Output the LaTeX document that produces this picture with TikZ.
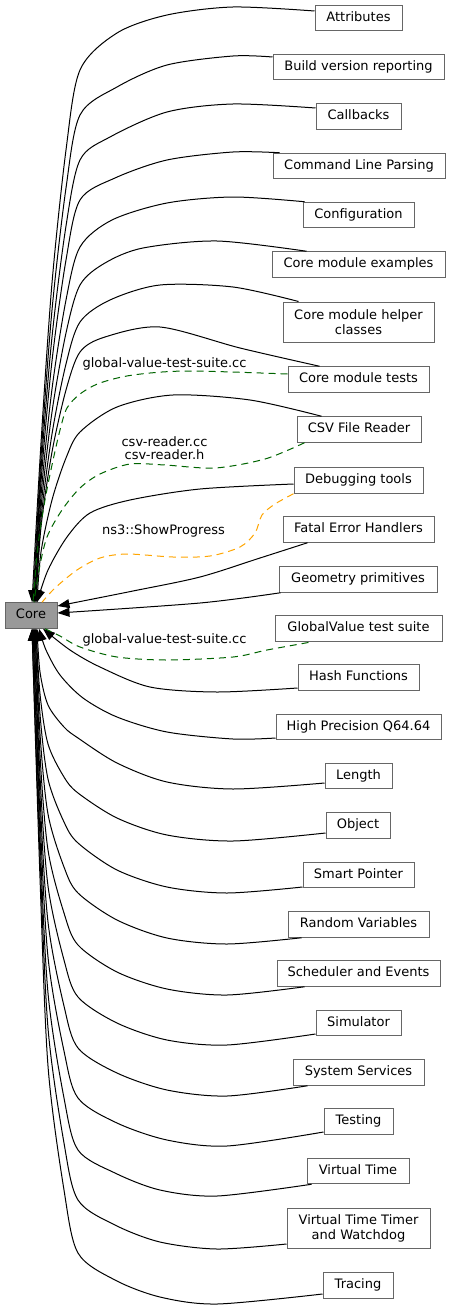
\documentclass[tikz,border=0pt]{standalone}
\usepackage{fontspec}
\setmainfont{DejaVu Sans}
\usetikzlibrary{arrows.meta}
\definecolor{boxline}{HTML}{666666}
\definecolor{corefill}{HTML}{999999}
\definecolor{dgreen}{HTML}{006400}
\definecolor{dorange}{HTML}{FFA500}
\begin{document}
\begin{tikzpicture}[x=1pt,y=-1pt,
  box/.style={draw=boxline, line width=1pt, fill=white, inner sep=0pt, minimum height=25.5pt,
    font=\fontsize{13pt}{15pt}\selectfont, text height=9.5pt, text depth=3pt},
  boxtwo/.style={draw=boxline, line width=1pt, fill=white, inner sep=0pt, minimum height=40pt,
    font=\fontsize{13pt}{15pt}\selectfont, align=center},
  lab/.style={inner sep=0pt, font=\fontsize{13pt}{15pt}\selectfont, text height=9.5pt, text depth=3pt},
  labtwo/.style={inner sep=0pt, font=\fontsize{13pt}{13.5pt}\selectfont, align=center},
  link/.style={draw=black, line width=1pt, -{Triangle[length=12pt,width=9pt]}},
  dgr/.style={draw=dgreen, line width=1pt, dash pattern=on 7pt off 5pt},
  dor/.style={draw=dorange, line width=1pt, dash pattern=on 7pt off 5pt}]
\useasboundingbox (0,0) rectangle (451,1311);

\node[box, minimum width=87pt] (attr) at (358.5,18) {Attributes};
\node[box, minimum width=171pt] (build) at (358.5,67) {Build version reporting};
\node[box, minimum width=85pt] (cb) at (358.5,116.5) {Callbacks};
\node[box, minimum width=172pt] (cmd) at (359,166) {Command Line Parsing};
\node[box, minimum width=111pt] (conf) at (358.5,215) {Configuration};
\node[box, minimum width=173pt] (cmex) at (358.5,264.5) {Core module examples};
\node[boxtwo, minimum width=151pt] (cmh) at (358.5,322) {Core module helper\\classes};
\node[box, minimum width=141pt] (cmt) at (358.5,379.5) {Core module tests};
\node[box, minimum width=124pt] (csv) at (359,429.5) {CSV File Reader};
\node[box, minimum width=129pt] (dbg) at (358.5,480.5) {Debugging tools};
\node[box, minimum width=151pt] (fatal) at (358.5,529.5) {Fatal Error Handlers};
\node[box, minimum width=158pt] (geo) at (358,579.5) {Geometry primitives};
\node[box, minimum width=167pt] (gv) at (358.5,628.5) {GlobalValue test suite};
\node[box, minimum width=121pt] (hash) at (358.5,677.5) {Hash Functions};
\node[box, minimum width=165pt] (hp) at (358.5,727) {High Precision Q64.64};
\node[box, minimum width=67pt] (len) at (358.5,776) {Length};
\node[box, minimum width=64pt] (obj) at (358,825.5) {Object};
\node[box, minimum width=111pt] (sp) at (358.5,875) {Smart Pointer};
\node[box, minimum width=141pt] (rv) at (358.5,924.5) {Random Variables};
\node[box, minimum width=163pt] (sch) at (358.5,973.5) {Scheduler and Events};
\node[box, minimum width=85pt] (sim) at (358.5,1023) {Simulator};
\node[box, minimum width=131pt] (ss) at (358.5,1072.5) {System Services};
\node[box, minimum width=69pt] (tst) at (358.5,1121.5) {Testing};
\node[box, minimum width=102pt] (vt) at (358,1171) {Virtual Time};
\node[boxtwo, minimum width=143pt] (vtt) at (358.5,1228) {Virtual Time Timer\\and Watchdog};
\node[box, minimum width=70pt] (trc) at (358,1285.5) {Tracing};
\node[box, minimum width=52pt, fill=corefill] (core) at (31,615.5) {Core};

% edges from upper nodes
\draw[link] plot[smooth] coordinates {([yshift=7pt]attr.west) (233,7) (167,15) (117,33) (80,70) (66,150) (52,283) (41,443) ([xshift=1pt]core.north)};
\draw[link] plot[smooth] coordinates {([yshift=10pt]build.west) (233,56) (167,65) (117,87) (80,115) (66,188) (52,310) (41,457) ([xshift=2pt]core.north)};
\draw[link] plot[smooth] coordinates {([yshift=8.5pt]cb.west) (233,104) (167,112) (110,137) (80,160) (66,226) (52,337) (41,470) ([xshift=3pt]core.north)};
\draw[link] plot[smooth] coordinates {([xshift=7pt]cmd.north west) (233,152) (167,160) (115,178) (80,200) (66,260) (52,361) (41,482) ([xshift=3pt]core.north)};
\draw[link] plot[smooth] coordinates {([xshift=2pt]conf.north west) (233,197) (167,203) (112,220) (80,247) (66,300) (52,389) (41,496) ([xshift=4pt]core.north)};
\draw[link] plot[smooth] coordinates {([xshift=35pt]cmex.north west) (217,241) (143,248) (105,263) (80,285) (66,333) (52,412) (41,508) ([xshift=4pt]core.north)};
\draw[link] plot[smooth] coordinates {([xshift=16pt]cmh.north west) (233,287) (160,285) (110,300) (80,322) (66,364) (52,434) (41,519) ([xshift=5pt]core.north)};
\draw[link] plot[smooth] coordinates {([xshift=32pt]cmt.north west) (240,348) (160,327) (105,337) (80,352) (66,390) (52,452) (41,527) ([xshift=5pt]core.north)};
\draw[link] plot[smooth] coordinates {([xshift=25pt]csv.north west) (250,400) (173,395) (117,407) (80,432) (66,458) (52,500) (41,552) ([xshift=6pt]core.north)};
\draw[link] plot[smooth] coordinates {([yshift=-3.5pt]dbg.west) (200,489) (130,500) (90,513) (67,537) (48,570) ([xshift=6pt]core.north)};

% edges to the right side of Core
\draw[link] plot[smooth] coordinates {([xshift=25pt]fatal.south west) (260,558) (200,577) (133,591) ([yshift=9.5pt]core.east)};
\draw[link] plot[smooth] coordinates {([xshift=2pt]geo.south west) (200,603) ([yshift=2.5pt]core.east)};

% edges from lower nodes
\draw[link] plot[smooth] coordinates {([yshift=-10.5pt]hash.west) (217,692) (150,687) (100,667) (70,650) ([xshift=12pt]core.south)};
\draw[link] plot[smooth] coordinates {([yshift=-11pt]hp.west) (233,739) (167,732) (117,717) (83,698) (60,675) (46,650) ([xshift=8pt]core.south)};
\draw[link] plot[smooth] coordinates {([yshift=-7pt]len.west) (233,789) (167,782) (117,763) (78,738) (64,727) (48,705) (40,672) ([xshift=6pt]core.south)};
\draw[link] plot[smooth] coordinates {([yshift=-7.5pt]obj.west) (233,841) (167,835) (117,818) (78,793) (64,777) (48,744) (40,694) ([xshift=5pt]core.south)};
\draw[link] plot[smooth] coordinates {([yshift=-12pt]sp.west) (227,893) (167,887) (117,870) (78,843) (64,822) (48,779) (40,714) ([xshift=5pt]core.south)};
\draw[link] plot[smooth] coordinates {([xshift=14pt]rv.south west) (227,944) (167,938) (117,920) (78,893) (64,867) (48,814) (40,734) ([xshift=4pt]core.south)};
\draw[link] plot[smooth] coordinates {([xshift=28pt]sch.south west) (227,995) (167,989) (117,972) (78,945) (64,913) (48,850) (40,755) ([xshift=4pt]core.south)};
\draw[link] plot[smooth] coordinates {([yshift=-11pt]sim.west) (227,1045) (167,1040) (117,1023) (78,997) (64,960) (48,886) (40,776) ([xshift=3pt]core.south)};
\draw[link] plot[smooth] coordinates {([xshift=15pt]ss.south west) (227,1096) (167,1090) (117,1073) (78,1048) (64,1006) (48,922) (40,796) ([xshift=3pt]core.south)};
\draw[link] plot[smooth] coordinates {([yshift=-10.5pt]tst.west) (227,1146) (167,1140) (117,1123) (78,1098) (64,1051) (48,957) (40,816) ([xshift=2pt]core.south)};
\draw[link] plot[smooth] coordinates {([xshift=5pt]vt.south west) (217,1196) (160,1190) (115,1173) (78,1150) (64,1098) (48,993) (40,837) ([xshift=2pt]core.south)};
\draw[link] plot[smooth] coordinates {([yshift=-16pt]vtt.west) (217,1249) (160,1242) (115,1225) (78,1200) (64,1143) (48,1028) (40,857) ([xshift=1pt]core.south)};
\draw[link] plot[smooth] coordinates {([yshift=-8.5pt]trc.west) (217,1304) (160,1297) (115,1280) (78,1253) (64,1190) (48,1066) (40,878) ([xshift=1pt]core.south)};

% dashed file dependencies
\draw[dgr] plot[smooth] coordinates {([yshift=5.5pt]cmt.west) (187,371) (133,375) (100,383) (80,394) (67,408) (60,430) (52,465) (45,500) (38,545) ([xshift=2pt]core.north)};
\draw[dgr] plot[smooth] coordinates {([xshift=8pt]csv.south west) (265,459) (215,468) (165,465) (130,464) (100,474) (80,488) (62,510) (47,537) (39,570) ([xshift=3pt]core.north)};
\draw[dor] plot[smooth] coordinates {(dbg.south west) (275,504) (262,515) (255,533) (240,547) (210,556) (173,557) (127,554) (100,558) (77,570) (55,588) ([xshift=11pt]core.north)};
\draw[dgr] plot[smooth] coordinates {([xshift=14pt]core.south) (60,636) (80,647) (117,657) (167,660) (233,657) (267,650) ([xshift=38pt]gv.south west)};

\node[lab] (l1) at (164.5,364) {global-value-test-suite.cc};
\node[labtwo] (l2) at (164.5,448) {csv-reader.cc\\csv-reader.h};
\node[lab] (l3) at (163.5,531) {ns3::ShowProgress};
\node[lab] (l4) at (164.5,640.5) {global-value-test-suite.cc};
\end{tikzpicture}
\end{document}
